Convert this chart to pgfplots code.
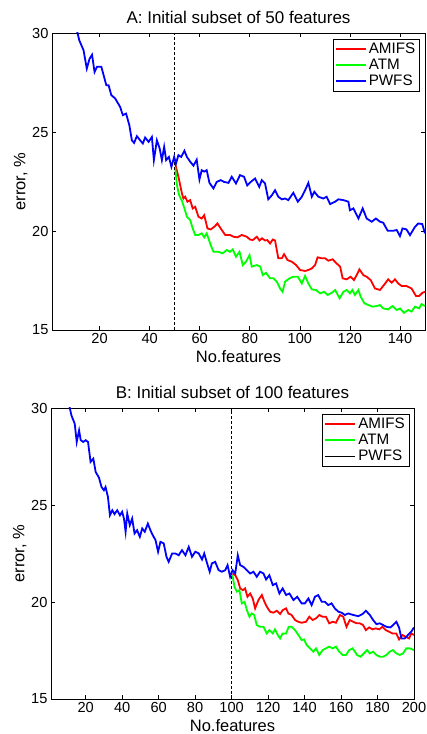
\documentclass[border=0pt]{standalone}
\usepackage{fontspec}
\setmainfont{Liberation Sans}
\usepackage{pgfplots}
\pgfplotsset{compat=1.18}
\definecolor{mred}{rgb}{1,0,0}
\definecolor{mgreen}{rgb}{0,1,0}
\definecolor{mblue}{rgb}{0,0,1}
\pgfplotsset{legend image code/.code={\draw[mark repeat=2,mark phase=2,#1] plot coordinates {(0pt,0pt) (15pt,0pt) (30pt,0pt)};}}
\pgfplotsset{
  mystyle/.style={
    scale only axis, anchor=south west,
    ymin=15, ymax=30, ytick={15,20,25,30}, xmin=1,
    tick align=inside, major tick length=4pt,
    axis line style={line width=0.8pt},
    every tick/.style={black, line width=0.6pt},
    tick label style={font=\fontsize{14.6}{16}\selectfont},
    /pgf/number format/assume math mode=true,
    label style={font=\fontsize{16.5}{18}\selectfont},
    title style={font=\fontsize{17}{19}\selectfont},
    xlabel={No.features}, ylabel={error, \%},
    xlabel style={yshift=0pt},
    ylabel style={yshift=-2pt},
    legend style={font=\fontsize{15.2}{17}\selectfont, at={(0.985,0.98)}, anchor=north east,
      draw=black, inner sep=2pt, row sep=0pt},
    legend cell align=left,
  },
}
\begin{document}
\begin{tikzpicture}
\path[use as bounding box] (0,0) rectangle (427pt,734pt);
% ---------------- Panel A ----------------
\begin{axis}[mystyle, at={(52pt,404pt)}, width=373pt, height=297pt,
  xmax=150, xtick={20,40,...,140},
  title={A: Initial subset of 50 features}]
\addlegendimage{mred, line width=1.8pt}
\addlegendentry{AMIFS}
\addlegendimage{mgreen, line width=1.8pt}
\addlegendentry{ATM}
\addlegendimage{mblue, line width=1.8pt}
\addlegendentry{PWFS}
\addplot[mred, line width=1.8pt, forget plot] coordinates {
(50.2,23.4) (51.5,22.74) (52.9,21.9) (53.5,21.64) (54.2,21.73) (55.1,21.48) (56.2,21.56) (57.2,21.14)
(58.2,21.22) (59.5,20.72) (60.8,20.63) (61.8,20.8) (63.1,20.13) (64.4,20.08) (65.8,20.21) (67.1,20.38)
(68.8,20.05) (70.2,19.8) (72.1,19.8) (73.5,19.71) (75.1,19.68) (76.8,19.8) (78.8,19.71) (80.1,19.57)
(81.2,19.54) (82.8,19.71) (83.9,19.52) (84.9,19.63) (86.1,19.52) (87,19.54) (88.1,19.37) (89.2,19.57)
(90.1,19.52) (91.4,18.62) (92.8,18.62) (93.7,18.83) (95.1,18.53) (96.8,18.45) (98.5,18.28) (100.1,18.03)
(102.1,17.98) (103.4,18.03) (104.8,18.11) (106.1,18.28) (107.1,18.67) (108.7,18.62) (110.1,18.62)
(111.4,18.5) (113.1,18.57) (114.7,18.36) (116.1,18.2) (117.1,17.61) (118.7,17.56) (120.3,17.69)
(121.6,17.52) (122.7,17.77) (123.8,18.06) (125.4,17.77) (126.7,17.69) (128.3,17.52) (130,17.1)
(132,17.02) (133.6,17.27) (135.3,17.56) (136.7,17.39) (138,17.56) (139.3,17.35) (140.7,17.22)
(142.6,17.22) (144.6,17.1) (146.4,16.72) (147.7,16.72) (149,16.88) (150,16.93)};
\addplot[mgreen, line width=1.8pt, forget plot] coordinates {
(50.2,23.24) (50.9,22.31) (51.8,21.81) (52.9,21.52) (53.9,21.14) (54.9,20.72) (56.2,20.55) (57.2,20.13)
(58.2,19.8) (59.5,19.8) (60.8,19.88) (61.8,19.68) (62.8,19.88) (64.4,19.29) (65.5,18.95) (67.4,18.95)
(69.2,18.87) (70.8,19.04) (72.1,18.95) (73.2,19.07) (74.5,18.7) (75.9,18.95) (77.2,18.28) (78.5,18.45)
(79.9,18.78) (80.8,18.2) (82.8,18.28) (84.2,18.2) (85.2,17.77) (86.5,17.89) (88.1,17.61) (89.5,17.61)
(90.8,17.44) (92.1,17.1) (93.1,16.93) (94.1,17.44) (95.9,17.61) (97.4,17.69) (99.2,17.69) (100.8,17.35)
(102.1,17.73) (103.4,17.35) (104.8,17.05) (106.5,17.02) (108.1,16.85) (109.7,16.93) (111.1,16.77)
(112.8,16.88) (114.1,17.02) (115.9,16.6) (117.4,16.93) (118.7,17.02) (120,16.85) (121,17.02) (122,16.77)
(123.4,17.02) (124.3,16.68) (125.8,16.35) (127.4,16.26) (129.1,16.18) (130.7,16.21) (132,16.26)
(133.3,16.09) (135.3,16.04) (137,16.21) (138.7,16.01) (140,16.09) (141.6,15.87) (143.3,16.01)
(144.6,15.93) (146,16.18) (147.7,16.09) (148.6,16.31) (150,16.21)};
\addplot[black, line width=0.6pt, densely dashed, forget plot] coordinates {(50,15) (50,30)};
\addplot[mblue, line width=1.8pt, forget plot] coordinates {
(1,36) (5,33.5) (9,31) (11.2,30) (11.9,29.63) (13.6,29.13) (14.9,28.2) (16,28.7) (17,28.9) (18,28.03)
(19,28.3) (20.7,28.3) (22.7,27.36) (23.6,27.36) (24.7,26.86) (26.2,26.7) (28.2,26.27) (29.3,25.85)
(30.6,25.93) (31.9,25.34) (32.9,24.58) (33.8,24.45) (34.9,24.79) (36.2,24.58) (37.3,24.42) (38.2,24.72)
(39.6,24.5) (40.9,24.75) (41.7,23.58) (42.9,24.58) (44,24.17) (44.9,23.58) (45.8,24.25) (46.6,23.58)
(47.7,23.74) (48.7,23.24) (49.8,23.74) (50.5,23.4) (51.5,23.83) (52.6,23.74) (53.9,24.05) (54.9,23.74)
(56.2,23.5) (57.5,23.3) (58.8,23.6) (59.9,22.6) (60.8,23.07) (61.8,23) (62.8,23.07) (63.9,22.43)
(65.5,22.15) (66.8,22.48) (68.4,22.57) (69.7,22.48) (71.5,22.43) (72.8,22.74) (74.5,22.4) (76.1,22.82)
(77.7,22.74) (79,22.3) (80.4,22.48) (82.1,22.65) (83.8,22.23) (84.8,22.57) (86.1,22.4) (87.4,21.6)
(88.8,21.8) (90.1,22.06) (91.4,21.73) (92.8,21.6) (94.1,21.64) (95.4,21.56) (97.4,21.93) (99.2,21.48)
(100.8,21.73) (102.1,22.06) (103.4,22.43) (104.8,21.73) (105.8,21.98) (107.4,21.73) (109.4,21.64)
(110.7,21.73) (112.1,21.36) (114.1,21.48) (115.4,21.6) (117.4,21.56) (119.4,21.48) (120,21.05)
(121.4,21.14) (123.4,20.63) (125.1,21.14) (126.7,20.63) (128.7,20.47) (130.4,20.63) (132,20.47)
(133.3,20.42) (135.1,20.01) (137.3,20.01) (138.7,20.05) (140,19.74) (141,20.13) (142.6,20.08)
(144,19.79) (146,20.21) (147.3,20.38) (148.9,20.35) (150,19.88)};
\end{axis}
% ---------------- Panel B ----------------
\begin{axis}[mystyle, at={(51pt,35pt)}, width=363pt, height=291pt,
  xmax=200, xtick={20,40,...,200},
  legend style={at={(0.986,0.98)}},
  title={B: Initial subset of 100 features}]
\addlegendimage{mred, line width=1.8pt}
\addlegendentry{AMIFS}
\addlegendimage{mgreen, line width=1.8pt}
\addlegendentry{ATM}
\addlegendimage{black, line width=0.6pt}
\addlegendentry{PWFS}
\addplot[mred, line width=1.8pt, forget plot] coordinates {
(100.5,21.47) (102,21.38) (103.4,21.13) (104.7,20.7) (106.2,20.61) (107.4,20.7) (108.7,20.27)
(110.2,20.44) (111.6,20.18) (112.9,19.67) (114.7,20.1) (116.6,20.36) (118,20.01) (119.3,19.76)
(121.1,19.5) (122.9,19.45) (124.8,19.55) (126.6,19.38) (128,19.58) (129.9,19.67) (131.1,19.41)
(132.9,19.33) (134.8,19.07) (136.6,18.98) (138.4,18.93) (140.8,18.98) (142.6,19.24) (144.4,19.07)
(146.3,19.16) (148.1,19.33) (149.9,19.24) (151.7,19.24) (153.5,18.9) (155.4,18.98) (157.2,18.93)
(159.4,19.33) (161.2,19.24) (163,18.72) (164.8,19.07) (166.7,18.98) (168.5,18.9) (170.3,18.9)
(172.1,18.81) (173.6,18.55) (175.4,18.69) (177.2,18.59) (179,18.64) (180.9,18.59) (182.7,18.72)
(184.5,18.55) (186.3,18.47) (188.2,18.38) (190.3,18.38) (191.8,18.07) (193.6,18.3) (195.4,18.21)
(197.3,18.12) (198.5,18.38) (200,18.3)};
\addplot[mgreen, line width=1.8pt, forget plot] coordinates {
(100.5,21.38) (101.6,20.78) (102.9,20.53) (104.3,20.61) (105.6,19.93) (107.1,20.01) (108.4,19.58)
(109.8,19.24) (111.1,19.41) (112.4,19.33) (113.8,18.81) (115.6,18.72) (117.5,18.72) (119.3,18.38)
(120.7,18.55) (122.6,18.38) (123.8,18.59) (125.3,18.3) (126.6,18.12) (128,18.38) (129.9,18.38)
(131.3,18.72) (132.9,18.72) (134.8,18.55) (136.6,18.3) (138.4,18.04) (139.7,18.07) (141.2,17.78)
(143,17.61) (144.8,17.44) (146.3,17.61) (148.1,17.27) (149.9,17.52) (151.7,17.61) (153.5,17.7)
(155.4,17.61) (157.2,17.7) (159,17.44) (160.8,17.27) (162.7,17.27) (164.5,17.52) (166.3,17.61)
(167.6,17.44) (168.8,17.27) (170.7,17.18) (172.5,17.35) (174.3,17.52) (175.8,17.35) (177.6,17.44)
(179.4,17.27) (181.2,17.18) (183.1,17.18) (184.9,17.27) (186.7,17.44) (188.5,17.52) (190.3,17.35)
(192.2,17.27) (194,17.35) (195.8,17.61) (197.7,17.61) (200,17.52)};
\addplot[black, line width=0.6pt, densely dashed, forget plot] coordinates {(100,15) (100,30)};
\addplot[mblue, line width=1.8pt, forget plot] coordinates {
(1,36) (5,33.5) (9,31) (11.3,30) (12.2,29.62) (14,29.19) (15.1,28.25) (16.4,28.85) (17.3,28.34)
(18.7,28.25) (20,28.34) (21.3,28.25) (22.7,27.22) (24.2,27.39) (25.5,26.7) (27.3,26.41) (28.7,25.93)
(30,25.76) (30.9,25.93) (32.2,25.42) (33.3,24.47) (34.6,24.73) (35.8,24.53) (37.3,24.73) (38.8,24.47)
(40,24.65) (41,24.3) (41.9,23.62) (42.8,24.56) (44.2,23.96) (45.5,24.3) (46.8,23.53) (48.2,23.7)
(49.7,23.36) (51,23.79) (52.4,23.62) (54.1,24.04) (55.5,23.7) (56.8,23.44) (58.3,23.19) (59.7,22.59)
(61,23.1) (62.8,23.02) (64.3,22.33) (65.5,22.07) (67.4,22.5) (69.2,22.5) (71,22.41) (72.8,22.67)
(74.7,22.41) (76.5,22.84) (78.3,22.33) (80.1,22.59) (82,22.5) (83.8,22.19) (85,22.5) (86.5,22.02)
(88,21.56) (89.2,21.99) (91,22.07) (92.9,21.64) (94.7,21.56) (96.5,21.64) (97.8,21.9) (99.2,21.3)
(100.5,21.64) (102,21.47) (103.4,22.41) (104.7,21.9) (106.5,21.81) (108.4,21.64) (110.2,21.47)
(112,21.56) (113.8,21.3) (115.6,21.56) (117.5,21.47) (118.9,21.16) (120.7,21.38) (122.6,20.87)
(124.4,20.96) (126.2,20.44) (128,20.7) (129.9,20.36) (131.7,20.44) (133.9,20.1) (136,20.27)
(138.4,19.93) (140.2,19.93) (142.1,20.18) (143.9,19.84) (145.7,20.27) (147.5,20.36) (149.4,20.01)
(151.2,20.01) (153,19.84) (154.8,19.93) (156.6,19.67) (158.5,19.5) (160.3,19.45) (162.1,19.33)
(163.9,19.41) (166.7,19.33) (169.4,19.27) (171.8,19.38) (173.6,19.55) (175.8,19.33) (177.6,19.07)
(179.4,18.86) (181.2,18.9) (183.1,18.81) (184.9,18.72) (187.1,18.69) (188.5,18.81) (190.3,18.98)
(191.8,18.69) (193.1,18.12) (194.9,18.12) (196.7,18.3) (198.5,18.47) (200,18.69)};
\end{axis}
\end{tikzpicture}
\end{document}
